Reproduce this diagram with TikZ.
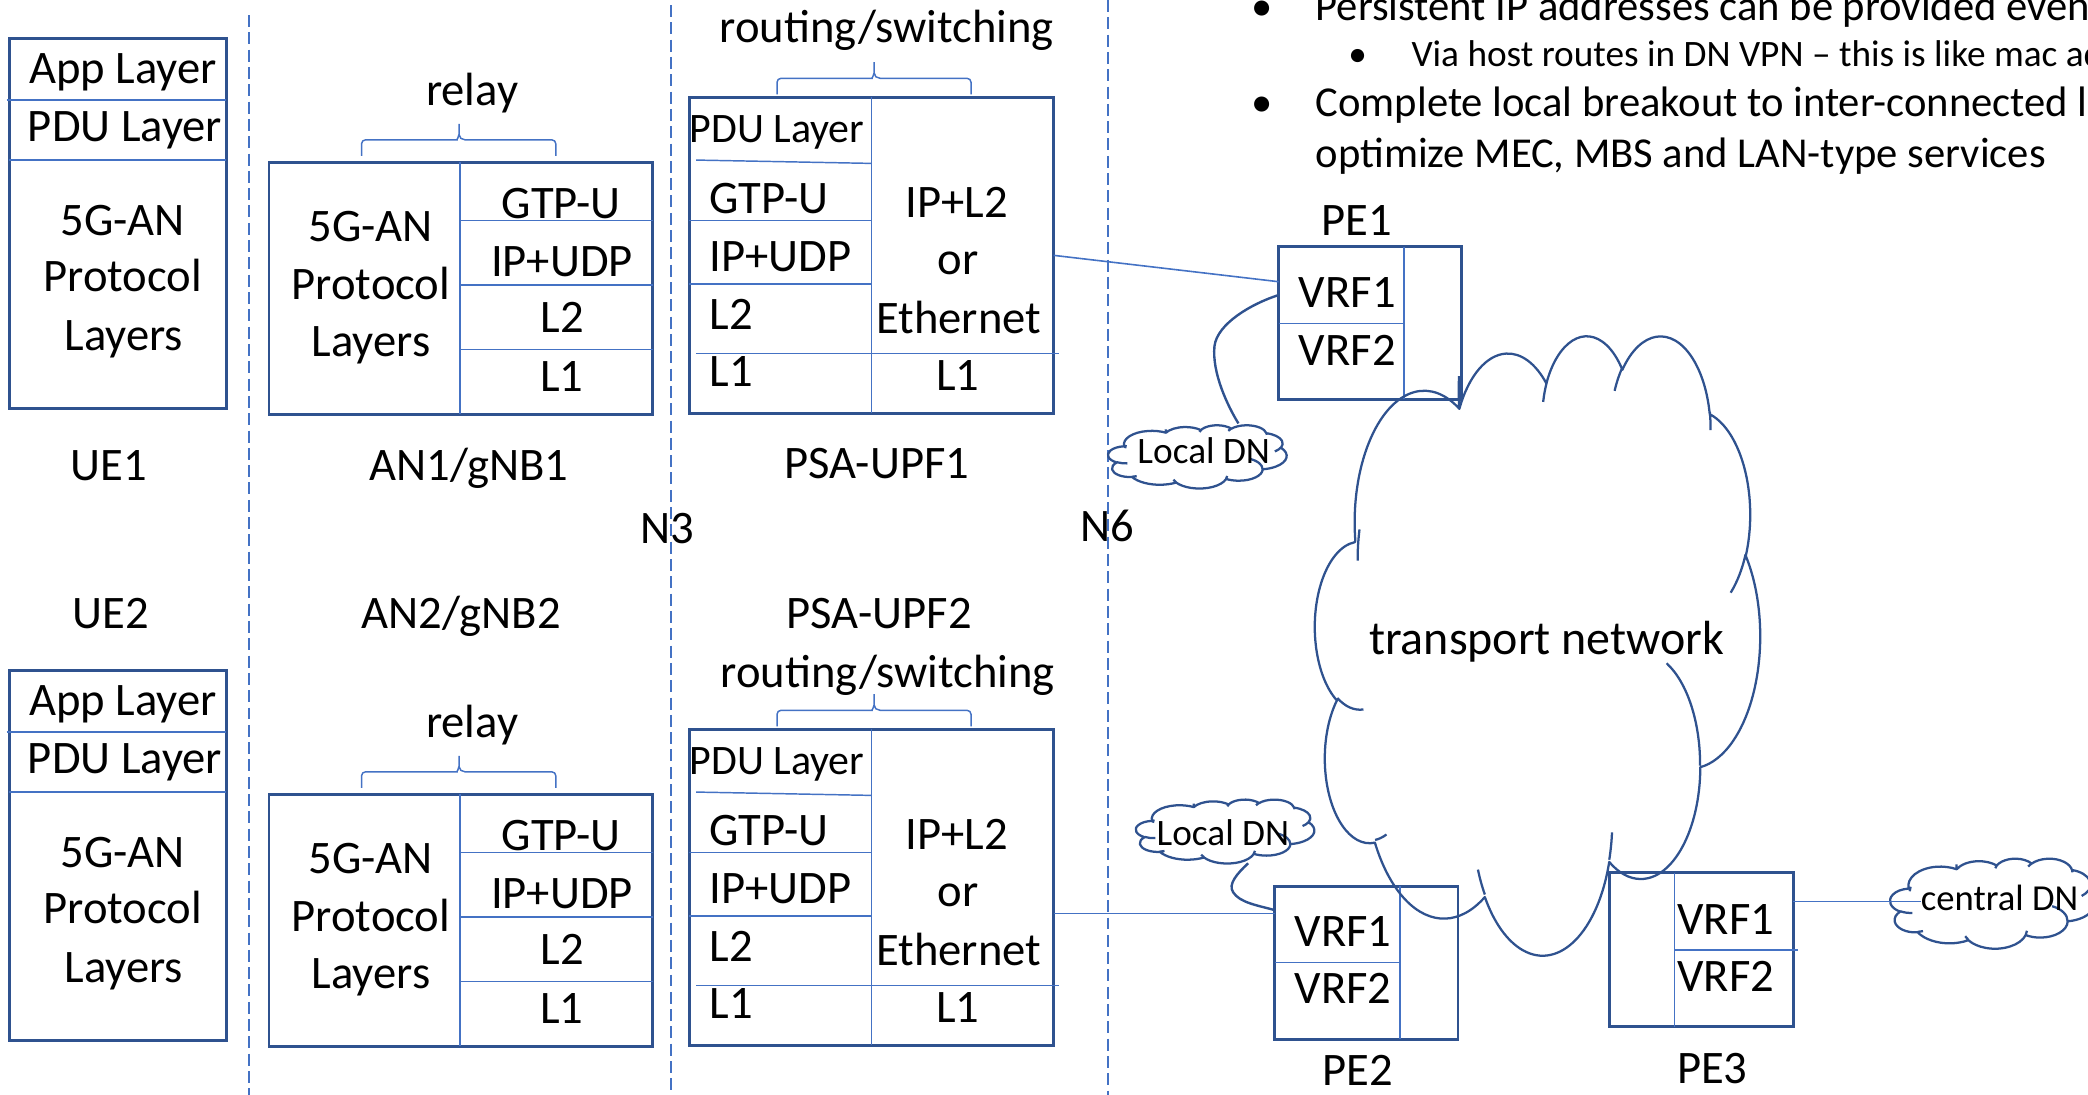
\documentclass[tikz,border=0pt]{standalone}
\usepackage{fontspec}
\setmainfont{Carlito}
\definecolor{edge}{HTML}{2F528F}
\definecolor{rule}{HTML}{4472C4}

% DrawingML-style elliptical arc: visual angles (60000ths of a degree) -> parametric angles
\newcommand\ooang[3]{\fpeval{round((#3)/60000 + atand(((#1)/(#2)-1)*sind((#3)/60000)*cosd((#3)/60000), (cosd((#3)/60000))^2 + (#1)/(#2)*(sind((#3)/60000))^2), 4)}}
\newcommand\ooarc[4]{arc[x radius=#1, y radius=#2, start angle=\ooang{#1}{#2}{#3}, end angle=\ooang{#1}{#2}{#3+#4}]}

% cloud outline in a 432 x 432 frame, with its inner hooks
\edef\cloudoutline{(39,143.7)
 \ooarc{67.53}{91.90}{-11429249}{7426832}
 \ooarc{53.33}{72.67}{-8646143}{5396714}
 \ooarc{43.65}{59.45}{-8748475}{5983381}
 \ooarc{48.57}{65.95}{-7859164}{7034504}
 \ooarc{53.33}{72.73}{-4722533}{6541615}
 \ooarc{67.75}{92.20}{-2776035}{7816140}
 \ooarc{57.85}{78.67}{37501}{6842000}
 \ooarc{67.52}{92.15}{1347096}{6910353}
 \ooarc{77.20}{105.43}{3974558}{4542661}
 \ooarc{43.60}{59.18}{-16496525}{8804134}
 \ooarc{43.45}{59.45}{-14809710}{9151131}
 -- cycle
 (46.93,261.77) \ooarc{43.45}{59.45}{5204520}{1585770}
 (69.28,348.99) \ooarc{43.60}{59.18}{4416628}{686848}
 (164.78,390.90) \ooarc{67.52}{92.15}{8257449}{844866}
 (288.27,347.51) \ooarc{67.52}{92.15}{387196}{959901}
 (341.29,229.54) \ooarc{57.85}{78.67}{-4217541}{4255042}
 (417.98,153.54) \ooarc{53.33}{72.73}{1819082}{1665090}
 (383.24,54.26) \ooarc{48.57}{65.95}{-824660}{891534}
 (290.78,39.52) \ooarc{48.57}{65.95}{-8950887}{1091722}
 (221.41,47.20) \ooarc{43.65}{59.45}{-9809656}{1061181}
 (140.00,51.92) \ooarc{67.53}{91.90}{-11429249}{1154394}
 (41.27,157.89) \ooarc{67.53}{91.90}{10771813}{1099704}}

\tikzset{
 box/.style={draw=edge, line width=2.2pt, inner sep=0pt, outer sep=0pt, anchor=north west},
 divl/.style={draw=rule, line width=1.1pt},
 sep/.style={draw=rule, line width=1pt, dash pattern=on 9pt off 4pt},
 link/.style={draw=rule, line width=1.2pt},
 tail/.style={draw=edge, line width=1.8pt},
 cloudline/.style={draw=edge, line width=1.7pt, line join=round},
 brc/.style={draw=rule, line width=1.1pt},
 txt/.style={font=\fontsize{35}{42}\selectfont, inner sep=0pt, outer sep=0pt, anchor=base},
 txtw/.style={txt, anchor=base west},
 dn/.style={txt, font=\fontsize{28}{34}\selectfont},
 cloudtxt/.style={txt, font=\fontsize{36}{43}\selectfont},
 lvlone/.style={txt, anchor=base west, font=\fontsize{32}{38}\selectfont},
 lvltwo/.style={txt, anchor=base west, font=\fontsize{28}{34}\selectfont},
}

% cloud: name, left, top, width, height
\newcommand\pptcloud[5]{%
  \edef\cldsx{\fpeval{round(#4/432,6)}}%
  \edef\cldsy{\fpeval{round(#5/432,6)}}%
  \coordinate (#1) at (#2+#4/2,#3+#5/2);
  \begin{scope}[shift={(#2,#3)}, x=\cldsx pt, y=-\cldsy pt]
    \draw[cloudline] \cloudoutline;
  \end{scope}}

% curly brace over a stack: x1, x2, tip x, bottom y, middle y, tip y
\newcommand\topbrace[6]{%
  \draw[brc] (#1,#4) [rounded corners=3pt] |- (#3-4.5,#5) [sharp corners]
    to[out=0,in=-90] (#3,#5-4) -- (#3,#6) -- (#3,#5-4)
    to[out=-90,in=180] (#3+4.5,#5) [rounded corners=3pt] -| (#2,#4);}

% UE protocol stack
\newcommand\uestack[2]{%
\begin{scope}[shift={(0,#2)}]
  \node[box, minimum width=163pt, minimum height=277.6pt] (ue#1) at (7,29) {};
  \draw[divl] (5,75) -- (170,75);
  \draw[divl] (7,120) -- (170,120);
  \node[txt] (ue#1app) at (92.2,62.6) {App Layer};
  \node[txt] (ue#1pdu) at (93.9,106.4) {PDU Layer};
  \node[txt] (ue#1a) at (92.2,176.5) {5G-AN};
  \node[txt] (ue#1b) at (92.2,219) {Protocol};
  \node[txt] (ue#1c) at (93,263) {Layers};
\end{scope}}

% access node protocol stack
\newcommand\anstack[2]{%
\begin{scope}[shift={(0,#2)}]
  \node[box, minimum width=288pt, minimum height=189pt] (an#1) at (202,122) {};
  \draw[divl] (345.5,122) -- (345.5,311);
  \draw[divl] (345.5,165.5) -- (490,165.5);
  \draw[divl] (345.5,214) -- (490,214);
  \draw[divl] (345.5,262.4) -- (490,262.4);
  \node[txt] (an#1gtp) at (421.5,164) {GTP-U};
  \node[txt] (an#1ip) at (422,207.8) {IP+UDP};
  \node[txt] (an#1ltwo) at (422.4,250) {L2};
  \node[txt] (an#1lone) at (422,294) {L1};
  \node[txt] (an#1a) at (278.3,181.5) {5G-AN};
  \node[txt] (an#1b) at (278.6,224.8) {Protocol};
  \node[txt] (an#1c) at (278.6,267.9) {Layers};
  \topbrace{271.5}{417.4}{344.7}{117}{105}{93}
  \node[txt] (an#1relay) at (354.5,78.9) {relay};
\end{scope}}

% UPF protocol stack
\newcommand\upfstack[2]{%
\begin{scope}[shift={(0,#2)}]
  \node[box, minimum width=273.5pt, minimum height=237.3pt] (upf#1) at (517.7,73.1) {};
  \draw[divl] (654.4,73.1) -- (654.4,310.4);
  \draw[divl] (522.7,120.2) -- (654.4,122.7);
  \draw[divl] (517.7,165.5) -- (654.4,165.5);
  \draw[divl] (517.7,213.3) -- (654.4,213.3);
  \draw[divl] (522.7,265.3) -- (795,265.3);
  \node[txt, font=\fontsize{31.5}{38}\selectfont] (upf#1pdu) at (583.5,107.2) {PDU Layer};
  \node[txtw] (upf#1gtp) at (533,160.2) {GTP-U};
  \node[txtw] (upf#1ip) at (533,204) {IP+UDP};
  \node[txtw] (upf#1ltwo) at (533,247.3) {L2};
  \node[txtw] (upf#1lone) at (533,290.4) {L1};
  \node[txt] (upf#1ra) at (718.7,163.2) {IP+L2};
  \node[txt] (upf#1rb) at (719.4,206.5) {or};
  \node[txt] (upf#1rc) at (720,250.3) {Ethernet};
  \node[txt] (upf#1rd) at (719.4,292.9) {L1};
  \topbrace{583.5}{729.2}{656.4}{70.8}{58.8}{46.6}
\end{scope}}

\begin{document}
\begin{tikzpicture}[x=1pt,y=-1pt]
\useasboundingbox (0,0) rectangle (1568,822);
\clip (0,0) rectangle (1568,822);

% interface separators
\draw[sep] (187,11.3) -- (187,822);
\draw[sep] (504,3.8) -- (504,822);
\draw[sep] (832,0) -- (832,822);

% bullet text
\node[txt, font=\fontsize{32}{38}\selectfont] (bulA) at (947.5,15.5) {•};
\node[lvlone] (noteA) at (988,15.5) {Persistent IP addresses can be provided even};
\node[txt, font=\fontsize{28}{34}\selectfont] (bulB) at (1019.5,50) {•};
\node[lvltwo] (noteB) at (1060,50) {Via host routes in DN VPN – this is like mac ad};
\node[txt, font=\fontsize{32}{38}\selectfont] (bulC) at (947.5,87.6) {•};
\node[lvlone] (noteC) at (988,87.6) {Complete local breakout to inter-connected l};
\node[lvlone] (noteD) at (988,126) {optimize MEC, MBS and LAN-type services};

% protocol stacks
\uestack{1}{0}
\uestack{2}{474.6}
\anstack{1}{0}
\anstack{2}{474.6}
\upfstack{1}{0}
\upfstack{2}{474.6}

\node[txt] (rsA) at (666,32) {routing/switching};
\node[txt] (rsB) at (666.6,516) {routing/switching};

% element labels
\node[txt] (lblue1) at (81.8,360.5) {UE1};
\node[txt] (lblan1) at (352,360.5) {AN1/gNB1};
\node[txt] (lblupf1) at (658.3,359.2) {PSA-UPF1};
\node[txt] (lblnthree) at (501.3,408) {N3};
\node[txt] (lblnsix) at (831.4,406.8) {N6};
\node[txt] (lblue2) at (83,471.9) {UE2};
\node[txt] (lblan2) at (346.3,471.9) {AN2/gNB2};
\node[txt] (lblupf2) at (660.3,471.9) {PSA-UPF2};

% PE routers
\node[box, minimum width=137.4pt, minimum height=114.7pt] (pe1) at (960.2,185.2) {};
\draw[divl] (1054.4,185.2) -- (1054.4,299.9);
\draw[divl] (960.2,242.8) -- (1054.4,242.8);
\node[txt] (pe1v1) at (1011.8,230.8) {VRF1};
\node[txt] (pe1v2) at (1011.8,274.1) {VRF2};
\node[txt] (pe1lbl) at (1018.8,176.5) {PE1};

\node[box, minimum width=137.7pt, minimum height=115.1pt] (pe2) at (957.2,665.4) {};
\draw[divl] (1051.4,665.4) -- (1051.4,780.5);
\draw[divl] (957.2,722.7) -- (1051.4,722.7);
\node[txt] (pe2v1) at (1008.7,711) {VRF1};
\node[txt] (pe2v2) at (1008.7,753.5) {VRF2};
\node[txt] (pe2lbl) at (1019.4,814.8) {PE2};

\node[box, minimum width=138pt, minimum height=115.6pt] (pe3) at (1208.5,655.4) {};
\draw[divl] (1257.6,655.4) -- (1257.6,771);
\draw[divl] (1257.6,713.4) -- (1350.3,713.4);
\node[txt] (pe3v1) at (1296,701.4) {VRF1};
\node[txt] (pe3v2) at (1296,744.7) {VRF2};
\node[txt] (pe3lbl) at (1285.8,813.6) {PE3};

% clouds
\pptcloud{tn}{987.6}{251}{334.1}{465}
\node[cloudtxt] (tntext) at (1161.5,491.5) {transport network};
\pptcloud{ldnA}{832.1}{319.2}{134.1}{47.5}
\node[dn] (ldnAtext) at (904,348) {Local DN};
\pptcloud{ldnB}{853}{600.3}{134}{48}
\node[dn] (ldnBtext) at (918.4,634.6) {Local DN};
\pptcloud{cdnc}{1419.4}{644.6}{154}{67.6}
\node[dn, font=\fontsize{27.5}{33}\selectfont] (cdn) at (1501.6,684) {central DN};

% connections
\draw[link] (upf1.east) -- ([yshift=31pt]pe1.west);
\draw[link] ([yshift=-19.5pt]upf2.east) -- ([yshift=-19.5pt]upf2.east -| pe2.west);
\draw[link] ([yshift=36.2pt]pe3.east) -- ([yshift=36.2pt]pe3.east -| cdn.west);

\coordinate (ldnAtail) at (930,318);
\coordinate (ldnBtail) at (937.3,648.3);
\draw[tail] ([yshift=21pt]pe1.west) .. controls (940,228) and (914,243) .. (912,260)
  .. controls (910,280) and (922,305) .. (ldnAtail);
\draw[tail] (ldnBtail) .. controls (929,656) and (922,664) .. (926,670)
  .. controls (931,678) and (945,680) .. ([yshift=39.5pt]pe2.west);
\end{tikzpicture}
\end{document}
